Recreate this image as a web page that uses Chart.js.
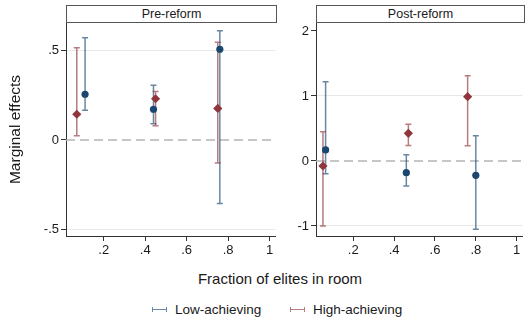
<!DOCTYPE html>
<html>
<head>
<meta charset="utf-8">
<script src="https://cdn.jsdelivr.net/npm/chart.js@4"></script>
<style>
  body { margin: 0; background: #fff; font-family: "Liberation Sans", Arial, sans-serif; color: #1a1a1a; }
  #wrap { position: relative; width: 527px; height: 324px; overflow: hidden; }
  canvas { position: absolute; top: 0; }
  .strip { position: absolute; top: 5px; height: 18px; box-sizing: border-box; border: 1px solid #555;
           background: #fff; font-size: 12.5px; line-height: 16px; text-align: center; }
  #xtitle { position: absolute; left: 0; width: 560px; top: 270px; text-align: center; font-size: 15px; }
  .key { position: absolute; top: 310px; width: 15px; height: 5px; margin-top: -3px; box-sizing: border-box;
         border-left: 1.5px solid; border-right: 1.5px solid; }
  .key::after { content: ""; position: absolute; left: 0; right: 0; top: 2px; border-top: 1.5px solid; }
  .keytext { position: absolute; top: 302px; font-size: 13.5px; line-height: 16px; }
</style>
</head>
<body>
<div id="wrap">
  <canvas id="pre" width="280" height="262" style="left:0;width:280px;height:262px"></canvas>
  <canvas id="post" width="247" height="262" style="left:280px;width:247px;height:262px"></canvas>
  <div class="strip" style="left:66px;width:211px">Pre-reform</div>
  <div class="strip" style="left:316px;width:209px">Post-reform</div>
  <div id="xtitle">Fraction of elites in room</div>
  <div class="key" style="left:152px;color:rgba(26,71,111,0.65)"></div>
  <div class="keytext" style="left:175px">Low-achieving</div>
  <div class="key" style="left:290px;color:rgba(144,53,59,0.65)"></div>
  <div class="keytext" style="left:313px">High-achieving</div>
</div>
<script>
// x positions, point estimates and 95% intervals per group
const xTicks = [0.2, 0.4, 0.6, 0.8, 1];

const preLowX = [0.11, 0.44, 0.76];
const preLow = [0.256, 0.172, 0.508];
const preLowLo = [0.166, 0.091, -0.356];
const preLowHi = [0.573, 0.306, 0.612];

const preHighX = [0.07, 0.45, 0.75];
const preHigh = [0.144, 0.231, 0.177];
const preHighLo = [0.024, 0.080, -0.129];
const preHighHi = [0.516, 0.272, 0.547];

const postLowX = [0.065, 0.46, 0.80];
const postLow = [0.17, -0.18, -0.22];
const postLowLo = [-0.195, -0.385, -1.05];
const postLowHi = [1.22, 0.097, 0.39];

const postHighX = [0.052, 0.47, 0.76];
const postHigh = [-0.077, 0.426, 0.99];
const postHighLo = [-1.0, 0.24, 0.235];
const postHighHi = [0.45, 0.565, 1.31];

const preYTicks = [-0.5, 0, 0.5];
const postYTicks = [-1, 0, 1, 2];

const BLUE = '#1a476f', RED = '#90353b';
const BLUE_CI = 'rgba(26,71,111,0.65)', RED_CI = 'rgba(144,53,59,0.65)';
const FONT = "'Liberation Sans', Arial, sans-serif";

function fmt(v) {
    if (v === 0) return '0';
    const s = String(Math.abs(v)).replace(/^0/, '');
    return (v < 0 ? '-' : '') + s;
}

function points(xs, ys, lo, hi) {
    return xs.map((x, i) => ({ x: x, y: ys[i], lo: lo[i], hi: hi[i] }));
}

// dashed zero line plus capped interval lines, under the markers
const errorBars = {
    id: 'errorBars',
    beforeDatasetsDraw(chart) {
        const { ctx, chartArea, scales: { x, y } } = chart;
        ctx.save();
        const y0 = y.getPixelForValue(0);
        ctx.strokeStyle = '#b4b4b4';
        ctx.lineWidth = 1.3;
        ctx.setLineDash([9, 5]);
        ctx.beginPath();
        ctx.moveTo(chartArea.left, y0);
        ctx.lineTo(chartArea.right, y0);
        ctx.stroke();
        ctx.setLineDash([]);
        chart.data.datasets.forEach(ds => {
            ctx.strokeStyle = ds.ciColor;
            ctx.lineWidth = 1.5;
            ds.data.forEach(p => {
                const px = x.getPixelForValue(p.x);
                const top = y.getPixelForValue(p.hi);
                const bot = y.getPixelForValue(p.lo);
                ctx.beginPath();
                ctx.moveTo(px, top); ctx.lineTo(px, bot);
                ctx.moveTo(px - 3, top); ctx.lineTo(px + 3, top);
                ctx.moveTo(px - 3, bot); ctx.lineTo(px + 3, bot);
                ctx.stroke();
            });
        });
        ctx.restore();
    }
};

function makePanel(id, low, high, yTicks, yMin, yMax, yWidth, padRight, yTitle) {
    const noGrid = yTicks.length > 3 ? [0, yTicks[yTicks.length - 1]] : [0];
    new Chart(document.getElementById(id), {
        type: 'scatter',
        data: {
            datasets: [
                { label: 'Low-achieving', data: low, ciColor: BLUE_CI, backgroundColor: BLUE, borderColor: BLUE,
                  pointStyle: 'circle', pointRadius: 3.6, borderWidth: 0 },
                { label: 'High-achieving', data: high, ciColor: RED_CI, backgroundColor: RED, borderColor: RED,
                  pointStyle: 'rectRot', pointRadius: 4.6, borderWidth: 0 }
            ]
        },
        options: {
            responsive: false,
            animation: false,
            layout: { padding: { top: 23, right: padRight, left: 0, bottom: 0 } },
            plugins: { legend: { display: false }, tooltip: { enabled: false } },
            scales: {
                x: {
                    type: 'linear', min: 0.018, max: 1.028,
                    afterBuildTicks: s => { s.ticks = xTicks.map(v => ({ value: v })); },
                    afterFit: s => { s.height = 26; },
                    ticks: { callback: v => fmt(v), color: '#1a1a1a', font: { family: FONT, size: 13 }, padding: 2, maxRotation: 0 },
                    grid: { drawOnChartArea: false, tickLength: 5, tickColor: '#333', tickWidth: 1 },
                    border: { color: '#333', width: 1 }
                },
                y: {
                    type: 'linear', min: yMin, max: yMax,
                    afterBuildTicks: s => { s.ticks = yTicks.map(v => ({ value: v })); },
                    afterFit: s => { s.width = yWidth; },
                    ticks: { callback: v => fmt(v), color: '#1a1a1a', font: { family: FONT, size: 13 }, padding: 2 },
                    grid: {
                        color: c => (c.tick && noGrid.includes(c.tick.value)) ? 'rgba(0,0,0,0)' : '#e8e8e8',
                        lineWidth: 1, tickLength: 5, tickColor: '#333', tickWidth: 1
                    },
                    border: { color: '#333', width: 1 },
                    title: {
                        display: !!yTitle, text: yTitle || '', color: '#1a1a1a',
                        font: { family: FONT, size: 15.5 }, padding: { top: 6, bottom: 0 }
                    }
                }
            }
        },
        plugins: [errorBars]
    });
}

makePanel('pre',
    points(preLowX, preLow, preLowLo, preLowHi),
    points(preHighX, preHigh, preHighLo, preHighHi),
    preYTicks, -0.5375, 0.655, 66, 3, 'Marginal effects');

makePanel('post',
    points(postLowX, postLow, postLowLo, postLowHi),
    points(postHighX, postHigh, postHighLo, postHighHi),
    postYTicks, -1.154, 2.123, 36, 2, null);
</script>
</body>
</html>
